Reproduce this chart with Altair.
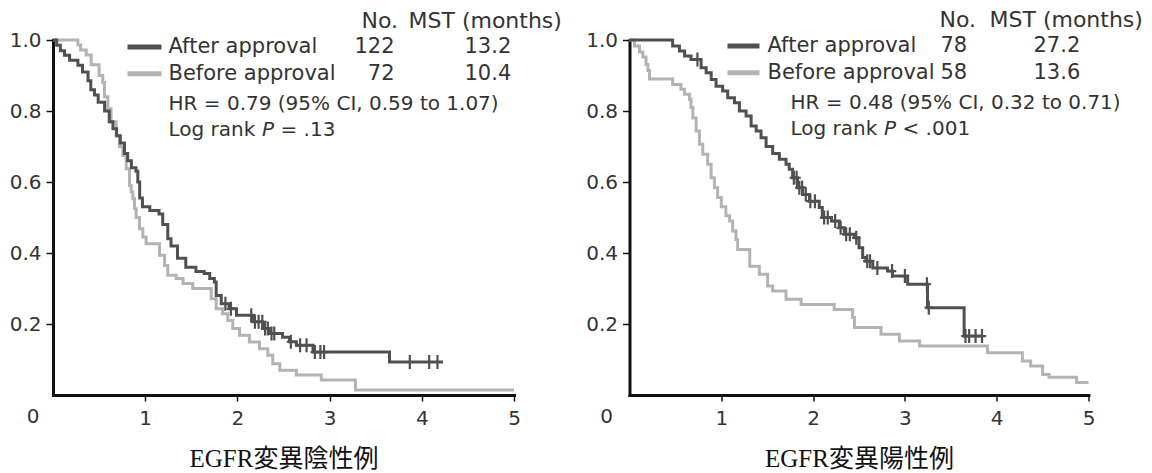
import altair as alt
import pandas as pd

# ---------------- data ----------------
# EGFR mutation negative
neg_after_t = [0, 0.04, 0.08, 0.125, 0.18, 0.27, 0.32, 0.38, 0.41, 0.45, 0.49, 0.56, 0.61, 0.65, 0.69,
               0.73, 0.775, 0.81, 0.85, 0.90, 0.92, 0.94, 0.97, 1.05, 1.15, 1.19, 1.245, 1.28, 1.35, 1.44,
               1.55, 1.64, 1.70, 1.75, 1.77, 1.825, 1.91, 1.99, 2.17, 2.275, 2.35, 2.49, 2.565, 2.64, 2.82,
               3.65, 4.23]
neg_after_s = [1.0, 0.985, 0.97, 0.957, 0.943, 0.929, 0.91, 0.885, 0.86, 0.845, 0.825, 0.80, 0.77, 0.75, 0.73,
               0.71, 0.68, 0.66, 0.64, 0.63, 0.60, 0.555, 0.53, 0.52, 0.51, 0.48, 0.44, 0.42, 0.385, 0.36,
               0.348, 0.342, 0.328, 0.318, 0.28, 0.257, 0.243, 0.225, 0.206, 0.187, 0.173, 0.163, 0.15, 0.14, 0.121,
               0.093, 0.093]
neg_before_t = [0, 0.27, 0.30, 0.36, 0.414, 0.50, 0.54, 0.558, 0.595, 0.63, 0.685, 0.72, 0.757, 0.794, 0.83,
                0.848, 0.866, 0.884, 0.902, 0.938, 0.974, 1.01, 1.155, 1.21, 1.245, 1.336, 1.41, 1.516, 1.716, 1.77,
                1.84, 1.896, 1.95, 2.023, 2.13, 2.24, 2.33, 2.384, 2.46, 2.64, 2.91, 3.28, 5.0]
neg_before_s = [1.0, 0.986, 0.972, 0.958, 0.93, 0.90, 0.88, 0.84, 0.806, 0.77, 0.73, 0.70, 0.675, 0.637, 0.59,
                0.572, 0.553, 0.525, 0.50, 0.468, 0.445, 0.426, 0.394, 0.365, 0.337, 0.328, 0.314, 0.30, 0.271, 0.243,
                0.229, 0.21, 0.187, 0.168, 0.149, 0.13, 0.112, 0.088, 0.07, 0.056, 0.042, 0.014, 0.014]
neg_cens_t = [1.87, 1.93, 2.15, 2.19, 2.23, 2.27, 2.30, 2.33, 2.37, 2.40, 2.58, 2.68, 2.75, 2.84, 2.90, 2.94,
              3.87, 4.08, 4.17]
neg_cens_s = [0.257, 0.243, 0.225, 0.206, 0.206, 0.206, 0.187, 0.187, 0.173, 0.173, 0.15, 0.14, 0.14, 0.121,
              0.121, 0.121, 0.093, 0.093, 0.093]

# EGFR mutation positive
pos_after_t = [0, 0.47, 0.544, 0.6, 0.67, 0.78, 0.835, 0.89, 0.943, 1.015, 1.07, 1.143, 1.197, 1.27, 1.325,
               1.38, 1.433, 1.488, 1.56, 1.632, 1.705, 1.74, 1.777, 1.83, 1.886, 1.96, 2.067, 2.1, 2.2, 2.285,
               2.34, 2.45, 2.5, 2.54, 2.576, 2.65, 2.81, 2.865, 3.03, 3.246, 3.645, 3.845]
pos_after_s = [1.0, 0.983, 0.969, 0.955, 0.945, 0.922, 0.908, 0.889, 0.87, 0.856, 0.837, 0.823, 0.80, 0.786, 0.758,
               0.744, 0.725, 0.70, 0.68, 0.664, 0.65, 0.636, 0.612, 0.584, 0.565, 0.546, 0.528, 0.50, 0.49, 0.471,
               0.453, 0.443, 0.415, 0.387, 0.377, 0.358, 0.349, 0.335, 0.312, 0.246, 0.166, 0.166]
pos_before_t = [0, 0.054, 0.109, 0.145, 0.18, 0.2, 0.218, 0.47, 0.56, 0.6, 0.653, 0.67, 0.69, 0.726, 0.762,
                0.798, 0.852, 0.889, 0.925, 0.96, 1.0, 1.05, 1.09, 1.124, 1.16, 1.178, 1.31, 1.414, 1.505, 1.56,
                1.705, 1.87, 2.23, 2.43, 2.45, 2.74, 2.94, 3.16, 3.90, 4.28, 4.37, 4.5, 4.57, 4.87, 5.0]
pos_before_s = [1.0, 0.983, 0.966, 0.952, 0.931, 0.914, 0.89, 0.875, 0.861, 0.847, 0.833, 0.81, 0.78, 0.744, 0.706,
                0.678, 0.65, 0.612, 0.584, 0.556, 0.53, 0.505, 0.49, 0.462, 0.438, 0.41, 0.363, 0.34, 0.307, 0.293,
                0.27, 0.255, 0.241, 0.218, 0.19, 0.171, 0.152, 0.138, 0.119, 0.096, 0.082, 0.058, 0.05, 0.035, 0.035]
pos_cens_t = [0.74, 1.79, 1.82, 1.85, 1.88, 1.92, 1.97, 2.02, 2.12, 2.16, 2.24, 2.30, 2.36, 2.40, 2.47, 2.59,
              2.62, 2.70, 2.86, 3.0, 3.24, 3.26, 3.66, 3.70, 3.77, 3.84]
pos_cens_s = [0.945, 0.612, 0.612, 0.584, 0.584, 0.565, 0.546, 0.546, 0.50, 0.50, 0.49, 0.471, 0.453, 0.453, 0.443,
              0.377, 0.377, 0.358, 0.349, 0.335, 0.312, 0.246, 0.166, 0.166, 0.166, 0.166]

x_ticks = [1, 2, 3, 4, 5]
y_ticks = [0.2, 0.4, 0.6, 0.8, 1.0]
series_names = ["After approval", "Before approval"]
neg_no = ["122", "72"]
neg_mst = ["13.2", "10.4"]
pos_no = ["78", "58"]
pos_mst = ["27.2", "13.6"]
neg_hr = "HR = 0.79 (95% CI, 0.59 to 1.07)"
pos_hr = "HR = 0.48 (95% CI, 0.32 to 0.71)"
neg_p = "= .13"
pos_p = "< .001"
titles = ["EGFR変異陰性例", "EGFR変異陽性例"]

# ---------------- styles ----------------
SANS = "DejaVu Sans"
SERIF = "Liberation Serif, Noto Sans CJK JP"
DARK = "#505050"
GRAY = "#b3b3b3"
TXT = "#333333"
AX = "#111111"
CENS = "M0,-1L0,1M-0.6,0L0.6,0"
H = 355
one = pd.DataFrame({"k": [0]})


def txt(x, y, s, size=21, align="left", style="normal"):
    return alt.Chart(one).mark_text(
        text=s, align=align, baseline="middle", font=SANS, fontSize=size,
        color=TXT, fontStyle=style
    ).encode(x=alt.value(x), y=alt.value(y))


def rule(x1, x2, y, color):
    return alt.Chart(one).mark_rule(strokeWidth=5, color=color).encode(
        x=alt.value(x1), x2=alt.value(x2), y=alt.value(y))


def panel(at, as_, bt, bs, ct, cs, width, title, zero_dx, leg):
    xs = alt.Scale(domain=[0, 5], nice=False)
    ys = alt.Scale(domain=[0, 1], nice=False)
    xax = alt.Axis(values=x_ticks, format="d", title=title, titleFont=SERIF, titleFontSize=25,
                   titleFontWeight="normal", titleColor=AX, titleBaseline="middle", titleY=63,
                   labelFont=SANS, labelFontSize=20, labelColor=TXT, labelPadding=7,
                   tickSize=6, tickWidth=1.5, tickColor=AX, domainWidth=3, domainColor=AX,
                   domainCap="square", grid=False, labelFlush=False)
    yax = alt.Axis(values=y_ticks, format=".1f", title=None, labelFont=SANS, labelFontSize=20,
                   labelColor=TXT, labelPadding=5, tickSize=7, tickWidth=1.5, tickColor=AX,
                   domainWidth=3, domainColor=AX, domainCap="square", grid=False)

    dfa = pd.DataFrame({"t": at, "s": as_})
    dfb = pd.DataFrame({"t": bt, "s": bs})
    dfc = pd.DataFrame({"t": ct, "s": cs})

    before = alt.Chart(dfb).mark_line(interpolate="step-after", strokeWidth=3, color=GRAY).encode(
        x=alt.X("t:Q", scale=xs, axis=xax), y=alt.Y("s:Q", scale=ys, axis=yax))
    after = alt.Chart(dfa).mark_line(interpolate="step-after", strokeWidth=3, color=DARK).encode(
        x="t:Q", y="s:Q")
    cens = alt.Chart(dfc).mark_point(shape=CENS, size=196, filled=False, strokeWidth=2.2,
                                     color=DARK, opacity=1).encode(x="t:Q", y="s:Q")
    zero = alt.Chart(one).mark_text(text="0", font=SANS, fontSize=20, color=TXT,
                                    dx=zero_dx, dy=22).encode(x=alt.datum(0), y=alt.datum(0))

    layers = [before, after, cens, zero]
    layers += [
        txt(leg["no_x"], leg["hy"], "No.", size=22),
        txt(leg["mst_x"], leg["hy"], "MST (months)", size=22),
        rule(leg["l1"], leg["l2"], leg["r1"], DARK),
        rule(leg["l1"], leg["l2"], leg["r2"], GRAY),
        txt(leg["lab_x"], leg["r1"], series_names[0]),
        txt(leg["lab_x"], leg["r2"], series_names[1]),
        txt(leg["n_x"], leg["r1"], leg["no"][0], align=leg["n_align"]),
        txt(leg["n_x"], leg["r2"], leg["no"][1], align=leg["n_align"]),
        txt(leg["m_x"], leg["r1"], leg["mst"][0]),
        txt(leg["m_x"], leg["r2"], leg["mst"][1]),
        txt(leg["hr_x"], leg["hr_y"], leg["hr"], size=20),
        txt(leg["hr_x"], leg["lr_y"], "Log rank", size=20),
        txt(leg["hr_x"] + 93.5, leg["lr_y"], "P", size=20, style="italic"),
        txt(leg["hr_x"] + 112, leg["lr_y"], leg["p"], size=20),
    ]
    return alt.layer(*layers).properties(width=width, height=H)


left = panel(neg_after_t, neg_after_s, neg_before_t, neg_before_s, neg_cens_t, neg_cens_s,
             461, titles[0], -20,
             dict(no_x=308.5, mst_x=355.5, hy=-19.5, l1=74.5, l2=108.5, r1=7, r2=33.7,
                  lab_x=115.5, n_x=341.5, n_align="right", no=neg_no, m_x=411.5, mst=neg_mst,
                  hr_x=115.5, hr_y=64, lr_y=90.3, hr=neg_hr, p=neg_p))
right = panel(pos_after_t, pos_after_s, pos_before_t, pos_before_s, pos_cens_t, pos_cens_s,
              459, titles[1], -23,
              dict(no_x=310, mst_x=360, hy=-20.5, l1=98, l2=130, r1=6, r2=32.7,
                   lab_x=138, n_x=311, n_align="left", no=pos_no, m_x=404, mst=pos_mst,
                   hr_x=161, hr_y=63, lr_y=89.3, hr=pos_hr, p=pos_p))

chart = alt.hconcat(left, right, spacing=115.5, bounds="flush").properties(
    padding={"left": 1, "top": 0, "right": 0, "bottom": 0}
).configure_view(strokeWidth=0)

chart.save("out.html", embed_options={"renderer": "svg", "actions": False})
